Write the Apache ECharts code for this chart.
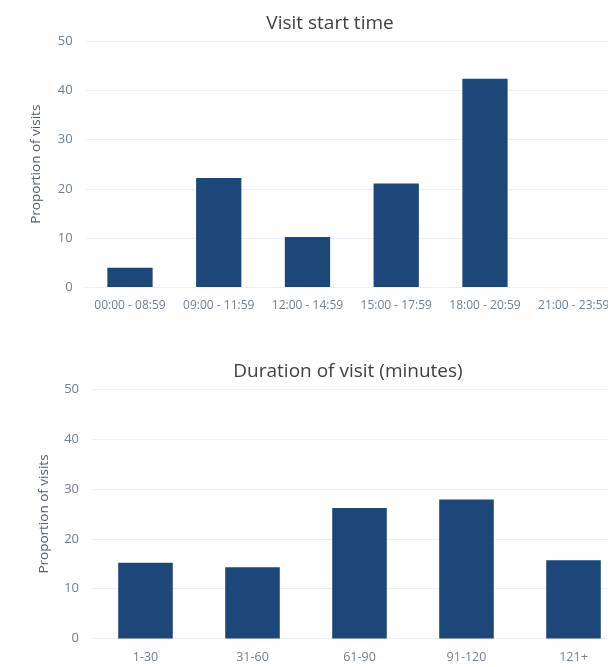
<!DOCTYPE html>
<html>
<head>
<meta charset="utf-8">
<script src="https://cdn.jsdelivr.net/npm/echarts@6/dist/echarts.min.js"></script>
<style>html,body{margin:0;padding:0;background:#fff}#c{width:608px;height:667px}</style>
</head>
<body>
<div id="c"></div>
<script>
const startCategories = ['00:00 - 08:59','09:00 - 11:59','12:00 - 14:59','15:00 - 17:59','18:00 - 20:59','21:00 - 23:59'];
const startValues = [3.9, 22.2, 10.2, 21.1, 42.4, 0];
const durationCategories = ['1-30','31-60','61-90','91-120','121+'];
const durationValues = [15.2, 14.3, 26.2, 27.9, 15.7];
const yTicks = {min: 0, max: 50, interval: 10};
const titles = ['Visit start time', 'Duration of visit (minutes)'];
const yName = 'Proportion of visits';

const font = 'Open Sans';
const barColor = '#1d4679';
const gridColor = '#e9eff5';
const labelColor = '#71808f';

const chart = echarts.init(document.getElementById('c'));

function yAxis(gridIndex, margin, gap) {
  return {
    type: 'value', gridIndex: gridIndex, min: yTicks.min, max: yTicks.max, interval: yTicks.interval,
    axisLine: {show: false}, axisTick: {show: false},
    axisLabel: {color: labelColor, fontFamily: font, fontSize: 13, margin: margin},
    splitLine: {lineStyle: {color: gridColor, width: 1}},
    name: yName, nameLocation: 'middle', nameRotate: 90, nameGap: gap,
    nameTextStyle: {color: '#4f5b69', fontFamily: font, fontSize: 13.5}
  };
}

chart.setOption({
  animation: false,
  title: [
    {text: titles[0], left: 325, top: 9, textAlign: 'center',
     textStyle: {color: '#404040', fontFamily: font, fontSize: 19, fontWeight: 'normal'}},
    {text: titles[1], left: 343, top: 357, textAlign: 'center',
     textStyle: {color: '#404040', fontFamily: font, fontSize: 19, fontWeight: 'normal'}}
  ],
  grid: [
    {left: 85.6, width: 532.5, top: 41.5, height: 245.5, outerBoundsMode: 'none'},
    {left: 92, width: 535, top: 389.5, height: 249, outerBoundsMode: 'none'}
  ],
  xAxis: [
    {type: 'category', gridIndex: 0, data: startCategories,
     axisLine: {lineStyle: {color: gridColor}}, axisTick: {show: false},
     axisLabel: {color: labelColor, fontFamily: font, fontSize: 12, margin: 13, interval: 0}},
    {type: 'category', gridIndex: 1, data: durationCategories,
     axisLine: {lineStyle: {color: gridColor}}, axisTick: {show: false},
     axisLabel: {color: labelColor, fontFamily: font, fontSize: 12.5, margin: 12, interval: 0}}
  ],
  yAxis: [
    yAxis(0, 13, 42),
    yAxis(1, 13, 41)
  ],
  series: [
    {type: 'bar', xAxisIndex: 0, yAxisIndex: 0, data: startValues, barWidth: '51%',
     itemStyle: {color: barColor}},
    {type: 'bar', xAxisIndex: 1, yAxisIndex: 1, data: durationValues, barWidth: '51%',
     itemStyle: {color: barColor}}
  ]
});
</script>
</body>
</html>
